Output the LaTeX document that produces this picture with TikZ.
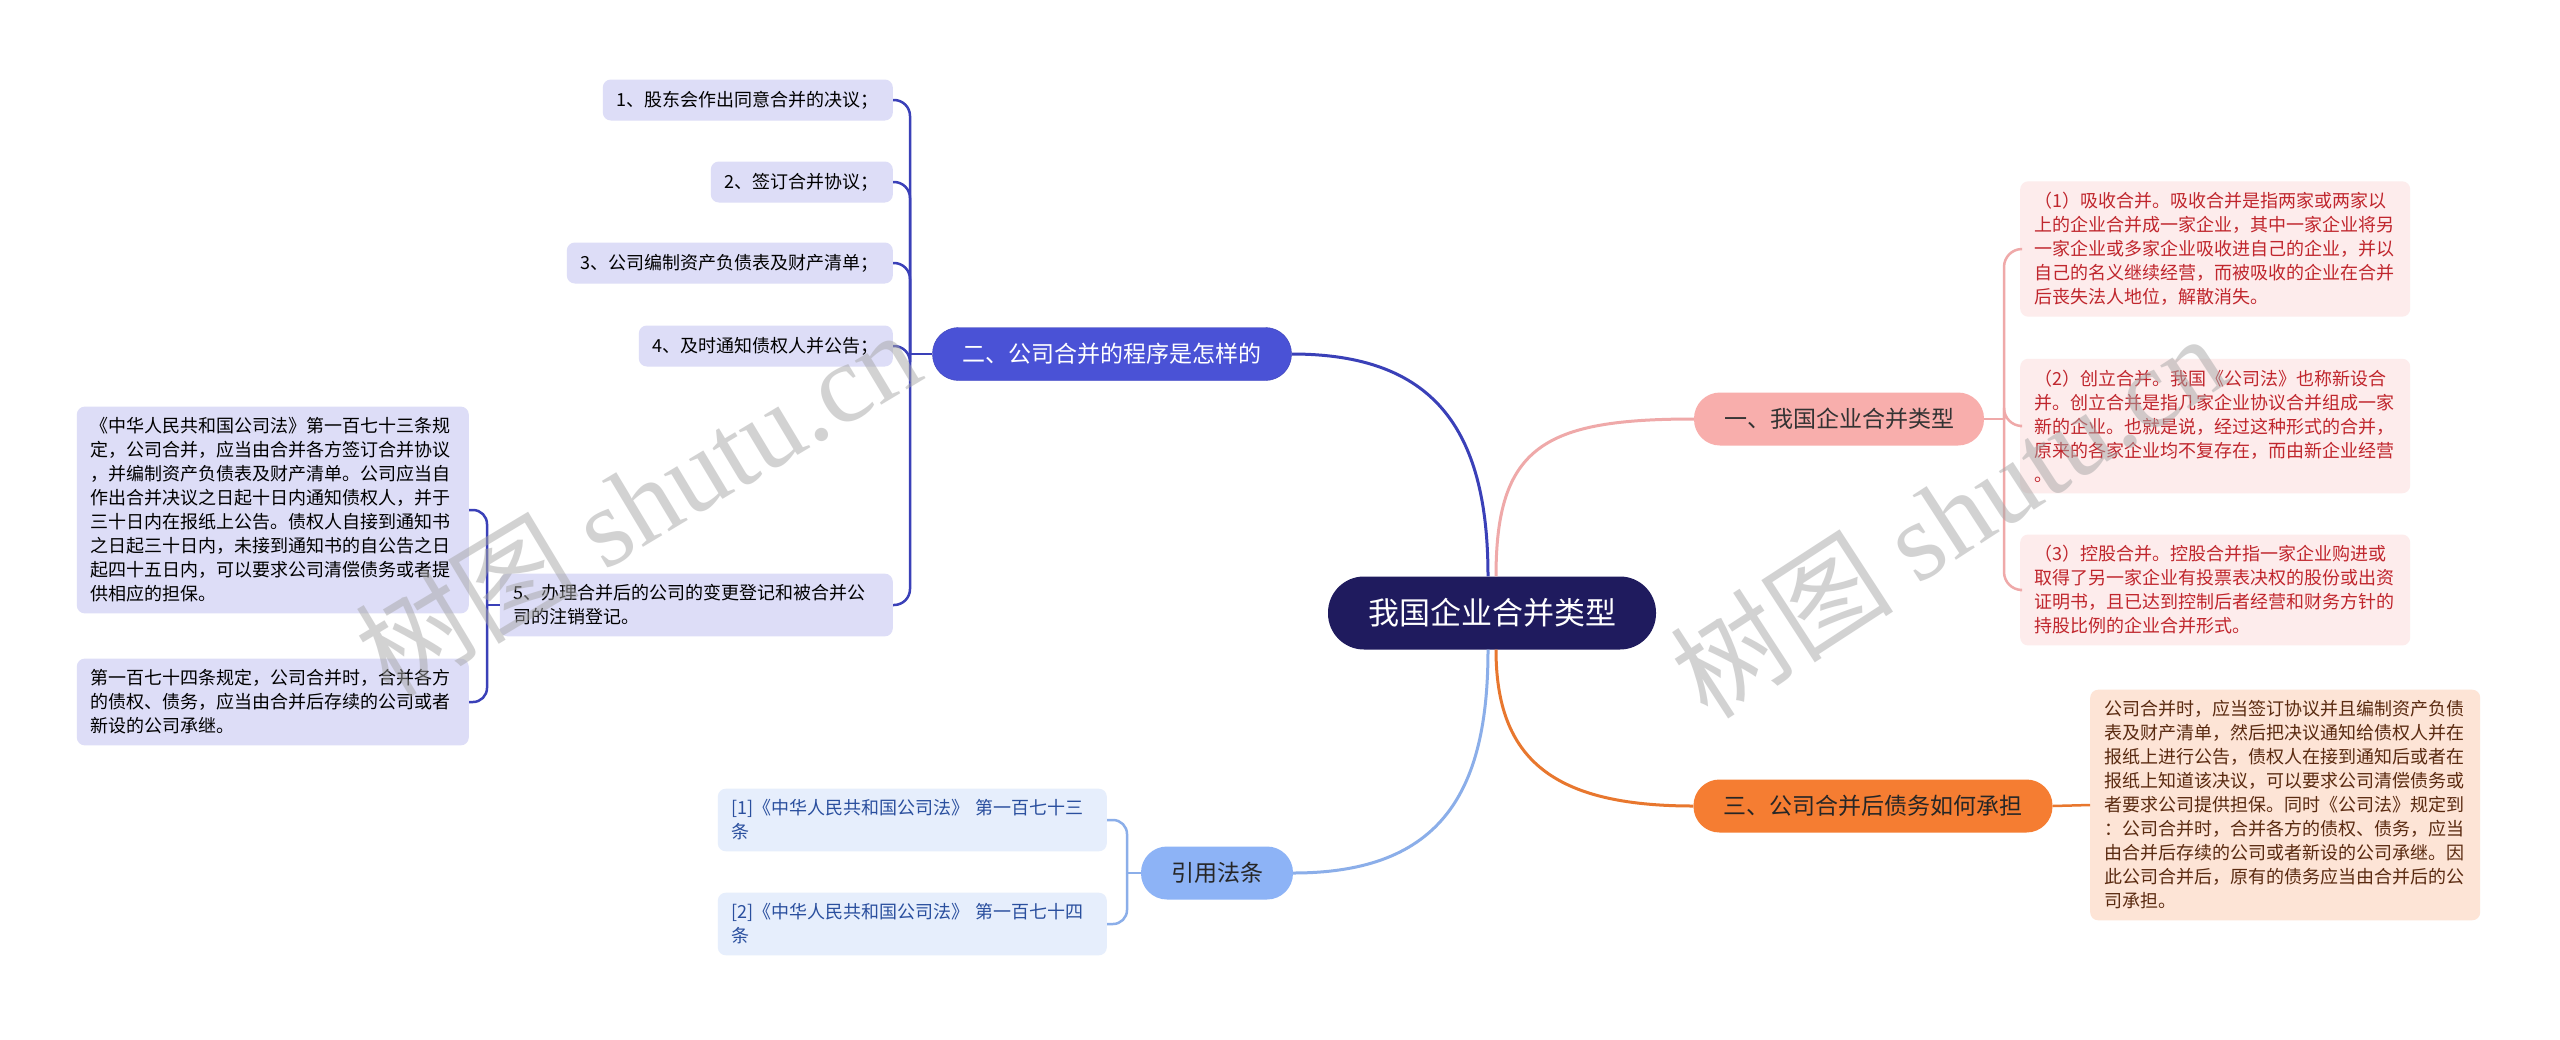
\documentclass[tikz,border=0pt]{standalone}
\usepackage{fontspec}
\setmainfont{Noto Sans CJK SC}
\newfontfamily\wmlatin{Liberation Serif}
\usetikzlibrary{calc}
\usepackage{xcolor}

\definecolor{rootfill}{HTML}{1F1B5E}
\definecolor{procfill}{HTML}{4A52D6}
\definecolor{procleaf}{HTML}{DDDDF7}
\definecolor{procline}{HTML}{3A40B8}
\definecolor{typefill}{HTML}{F8AEAC}
\definecolor{typeleaf}{HTML}{FDECEC}
\definecolor{typetext}{HTML}{C0262D}
\definecolor{typeline}{HTML}{EFA9A9}
\definecolor{debtfill}{HTML}{F57D32}
\definecolor{debtleaf}{HTML}{FDE4D6}
\definecolor{debttext}{HTML}{5A2A10}
\definecolor{debtline}{HTML}{E8772E}
\definecolor{lawfill}{HTML}{8DB3F6}
\definecolor{lawleaf}{HTML}{E6EEFC}
\definecolor{lawtext}{HTML}{2A4F9E}
\definecolor{lawline}{HTML}{8BAEE9}

\begin{document}
\begin{tikzpicture}[x=1pt, y=-1pt,
  root/.style={fill=rootfill, text=white, rounded corners=36pt, minimum width=328pt, minimum height=73pt, font=\fontsize{31}{36}\selectfont},
  branch/.style={rounded corners=26pt, minimum height=53pt, inner xsep=30pt, font=\fontsize{23}{28}\selectfont},
  leaf/.style={rounded corners=8pt, align=left, inner xsep=14pt, inner ysep=11pt, minimum height=41pt, font=\fontsize{18}{24}\selectfont},
  link/.style={line width=2.5pt},
  trunk/.style={line width=3pt},
  wm/.style={text=gray!70, opacity=0.5, font=\fontsize{112}{112}\selectfont}
]
\useasboundingbox (0,0) rectangle (2560,1039);
\fill[white] (0,0) rectangle (2560,1039);

% Root and main branches
\node[root] (c) at (1492,613) {我国企业合并类型};
\node[branch, fill=procfill, draw=procline, text=white] (b2) at (1112,354) {二、公司合并的程序是怎样的};
\node[branch, fill=typefill, text=black!80] (b1) at (1839,419) {一、我国企业合并类型};
\node[branch, fill=debtfill, text=black!85] (b3) at (1873,806) {三、公司合并后债务如何承担};
\node[branch, fill=lawfill, text=black!85] (b4) at (1217,873) {引用法条};

% Procedure leaves
\node[leaf, fill=procleaf, anchor=east] (l1) at (893,100) {1、股东会作出同意合并的决议；};
\node[leaf, fill=procleaf, anchor=east] (l2) at (893,182) {2、签订合并协议；};
\node[leaf, fill=procleaf, anchor=east] (l3) at (893,263) {3、公司编制资产负债表及财产清单；};
\node[leaf, fill=procleaf, anchor=east] (l4) at (893,346) {4、及时通知债权人并公告；};
\node[leaf, fill=procleaf, anchor=east, text width=365pt] (l5) at (893,605) {5、办理合并后的公司的变更登记和被合并公\\司的注销登记。};
\node[leaf, fill=procleaf, anchor=east, text width=364pt] (sa) at (469,510) {《中华人民共和国公司法》第一百七十三条规\\定，公司合并，应当由合并各方签订合并协议\\，并编制资产负债表及财产清单。公司应当自\\作出合并决议之日起十日内通知债权人，并于\\三十日内在报纸上公告。债权人自接到通知书\\之日起三十日内，未接到通知书的自公告之日\\起四十五日内，可以要求公司清偿债务或者提\\供相应的担保。};
\node[leaf, fill=procleaf, anchor=east, text width=364pt] (sb) at (469,702) {第一百七十四条规定，公司合并时，合并各方\\的债权、债务，应当由合并后存续的公司或者\\新设的公司承继。};

% Type leaves
\node[leaf, fill=typeleaf, text=typetext, anchor=west, text width=362pt] (r1) at (2020,249) {（1）吸收合并。吸收合并是指两家或两家以\\上的企业合并成一家企业，其中一家企业将另\\一家企业或多家企业吸收进自己的企业，并以\\自己的名义继续经营，而被吸收的企业在合并\\后丧失法人地位，解散消失。};
\node[leaf, fill=typeleaf, text=typetext, anchor=west, text width=362pt] (r2) at (2020,426) {（2）创立合并。我国《公司法》也称新设合\\并。创立合并是指几家企业协议合并组成一家\\新的企业。也就是说，经过这种形式的合并，\\原来的各家企业均不复存在，而由新企业经营\\。};
\node[leaf, fill=typeleaf, text=typetext, anchor=west, text width=362pt] (r3) at (2020,590) {（3）控股合并。控股合并指一家企业购进或\\取得了另一家企业有投票表决权的股份或出资\\证明书，且已达到控制后者经营和财务方针的\\持股比例的企业合并形式。};

% Debt leaf
\node[leaf, fill=debtleaf, text=debttext, anchor=west, text width=362pt] (t1) at (2090,805) {公司合并时，应当签订协议并且编制资产负债\\表及财产清单，然后把决议通知给债权人并在\\报纸上进行公告，债权人在接到通知后或者在\\报纸上知道该决议，可以要求公司清偿债务或\\者要求公司提供担保。同时《公司法》规定到\\：公司合并时，合并各方的债权、债务，应当\\由合并后存续的公司或者新设的公司承继。因\\此公司合并后，原有的债务应当由合并后的公\\司承担。};

% Law leaves
\node[leaf, fill=lawleaf, text=lawtext, anchor=east, text width=361pt] (c1) at (1107,820) {[1]《中华人民共和国公司法》 第一百七十三\\条};
\node[leaf, fill=lawleaf, text=lawtext, anchor=east, text width=361pt] (c2) at (1107,924) {[2]《中华人民共和国公司法》 第一百七十四\\条};

% Root to branches
\draw[trunk, procline] ([xshift=-4pt]c.north) .. controls +(0,-150) and +(140,0) .. (b2.east);
\draw[trunk, typeline] ([xshift=4pt]c.north) .. controls +(0,-130) and +(-150,0) .. (b1.west);
\draw[trunk, debtline] ([xshift=4pt]c.south) .. controls +(0,110) and +(-140,0) .. (b3.west);
\draw[trunk, lawline] ([xshift=-4pt]c.south) .. controls +(0,140) and +(150,0) .. (b4.east);

% Branches to leaves
\coordinate (j2) at (910,354);
\draw[link, procline] (b2.west) -- (j2);
\foreach \n in {l1,l2,l3,l4,l5} \draw[link, procline, rounded corners=16pt] (j2) |- (\n.east);
\coordinate (j5) at (487,605);
\draw[link, procline] (l5.west) -- (j5);
\foreach \n in {sa,sb} \draw[link, procline, rounded corners=14pt] (j5) |- (\n.east);
\coordinate (j1) at (2004,419);
\draw[link, typeline] (b1.east) -- (j1);
\foreach \n in {r1,r2,r3} \draw[link, typeline, rounded corners=18pt] (j1) |- (\n.west);
\draw[link, debtline] (b3.east) -- (t1.west);
\coordinate (j4) at (1127,873);
\draw[link, lawline] (b4.west) -- (j4);
\foreach \n in {c1,c2} \draw[link, lawline, rounded corners=14pt] (j4) |- (\n.east);

% Watermarks
\node[wm, rotate=31] (wm1) at (637,502) {树图 {\wmlatin shutu.cn}};
\node[wm, rotate=33] (wm2) at (1948,515) {树图 {\wmlatin shutu.cn}};
\end{tikzpicture}
\end{document}
